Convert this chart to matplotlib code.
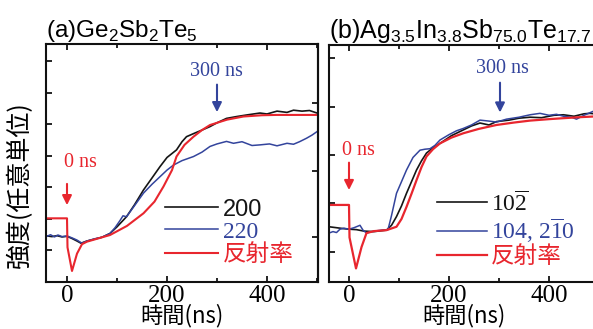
import numpy as np
import matplotlib
matplotlib.use('Agg')
import matplotlib.pyplot as plt
from matplotlib.ticker import MultipleLocator, FixedLocator

plt.rcParams['font.family'] = ['Liberation Sans', 'Noto Sans CJK JP', 'DejaVu Sans']
plt.rcParams['mathtext.fontset'] = 'custom'
plt.rcParams['mathtext.rm'] = 'Liberation Serif'
plt.rcParams['mathtext.sf'] = 'Liberation Sans'

BLACK = '#151515'
BLUE = '#33449c'
RED = '#e8262e'

# (a) Ge2Sb2Te5  -- time (ns) / intensity (arb.)
a_red_t = [-40, 0, 1, 10, 20, 30, 40, 86, 120, 153, 175, 193, 210, 219, 235, 253, 270, 286, 320, 353, 390, 419, 460, 500]
a_red_y = [2.02, 2.02, 1.1, 0.35, 0.9, 1.2, 1.28, 1.49, 1.78, 2.18, 2.55, 3.03, 3.55, 3.98, 4.35, 4.61, 4.82, 4.98, 5.15, 5.25, 5.29, 5.30, 5.30, 5.30]

a_blk_t = [-40, -30, -20, -10, 0, 10, 20, 28, 40, 55, 70, 86, 100, 119, 135, 153, 170, 186, 200, 219, 230, 239, 255, 270, 286, 300, 319, 340, 360, 386, 400, 420, 440, 453, 470, 485, 500]
a_blk_y = [1.46, 1.44, 1.47, 1.43, 1.45, 1.38, 1.3, 1.23, 1.3, 1.36, 1.42, 1.54, 1.75, 2.07, 2.45, 2.92, 3.3, 3.66, 3.95, 4.19, 4.45, 4.61, 4.72, 4.82, 4.93, 5.05, 5.19, 5.25, 5.3, 5.36, 5.33, 5.42, 5.38, 5.45, 5.42, 5.44, 5.36]

a_blu_t = [-40, -33, -25, -18, -10, 0, 10, 20, 30, 40, 55, 70, 86, 96, 106, 112, 119, 135, 153, 170, 186, 200, 213, 230, 253, 270, 286, 300, 319, 333, 350, 370, 386, 405, 420, 440, 453, 465, 479, 490, 500]
a_blu_y = [1.45, 1.5, 1.43, 1.49, 1.44, 1.46, 1.4, 1.33, 1.23, 1.3, 1.37, 1.42, 1.54, 1.72, 1.95, 2.1, 2.07, 2.42, 2.82, 3.1, 3.34, 3.55, 3.71, 3.85, 3.98, 4.12, 4.3, 4.38, 4.46, 4.4, 4.45, 4.33, 4.35, 4.38, 4.32, 4.4, 4.37, 4.45, 4.56, 4.66, 4.77]

# (b) Ag3.5In3.8Sb75.0Te17.7
b_red_t = [-40, 0, 1, 14, 25, 35, 50, 75, 95, 105, 115, 125, 135, 145, 155, 168, 182, 205, 229, 260, 295, 330, 362, 400, 429, 460, 500]
b_red_y = [0.97, 0.97, 0.3, -0.34, 0.1, 0.39, 0.43, 0.45, 0.52, 0.68, 0.93, 1.2, 1.48, 1.75, 1.97, 2.12, 2.24, 2.36, 2.45, 2.54, 2.62, 2.67, 2.71, 2.74, 2.76, 2.78, 2.80]

b_blk_t = [-40, -25, -10, 0, 15, 30, 50, 75, 85, 95, 105, 115, 125, 135, 145, 155, 168, 182, 205, 229, 245, 262, 280, 295, 320, 340, 362, 385, 410, 429, 450, 470, 482, 500]
b_blk_y = [0.52, 0.5, 0.48, 0.47, 0.46, 0.43, 0.42, 0.45, 0.55, 0.73, 0.95, 1.21, 1.45, 1.69, 1.88, 2.04, 2.15, 2.24, 2.4, 2.52, 2.6, 2.66, 2.62, 2.69, 2.72, 2.76, 2.78, 2.77, 2.82, 2.83, 2.8, 2.85, 2.86, 2.84]

b_blu_t = [-40, -32, -25, -18, -10, 0, 10, 22, 28, 35, 50, 65, 78, 85, 95, 105, 115, 128, 142, 152, 162, 172, 182, 200, 215, 229, 245, 262, 280, 295, 315, 340, 362, 382, 400, 415, 429, 445, 455, 470, 488, 500]
b_blu_y = [0.39, 0.42, 0.4, 0.47, 0.49, 0.47, 0.5, 0.55, 0.45, 0.39, 0.43, 0.45, 0.46, 0.75, 1.21, 1.45, 1.69, 1.95, 2.1, 2.12, 2.13, 2.2, 2.31, 2.42, 2.5, 2.55, 2.62, 2.72, 2.7, 2.68, 2.74, 2.78, 2.83, 2.86, 2.82, 2.84, 2.8, 2.78, 2.74, 2.82, 2.9, 2.88]

x_ticks = [0, 200, 400]
a_legend = ['200', '220', '反射率']
b_legend = [r'10$\mathrm{\overline{2}}$', r'104, 2$\mathrm{\overline{1}}$0', '反射率']
LEG_FONTS = [['Liberation Sans'], ['Liberation Serif'], ['Noto Sans CJK JP']]
LEG_FONTS_B = [['Liberation Serif'], ['Liberation Serif'], ['Noto Sans CJK JP']]


def style_axes(ax, xlim, ylim, yticks, rticks):
    ax.set_xlim(*xlim)
    ax.set_ylim(*ylim)
    ax.xaxis.set_major_locator(FixedLocator(x_ticks))
    ax.xaxis.set_minor_locator(MultipleLocator(100))
    ax.yaxis.set_major_locator(FixedLocator(yticks))
    ax.set_yticklabels([])
    ax.tick_params(which='both', direction='in', top=True, width=1.2)
    ax.tick_params(which='major', length=4, labelsize=18, pad=2)
    ax.tick_params(which='minor', length=3)
    for lab in ax.get_xticklabels():
        lab.set_family('Liberation Serif')
    for s in ax.spines.values():
        s.set_linewidth(1.5)
        s.set_color('#111111')
    if rticks:
        sec = ax.secondary_yaxis('right')
        sec.set_yticks(rticks)
        sec.set_yticklabels([])
        sec.tick_params(direction='in', length=4, width=1.2)
        sec.spines['right'].set_linewidth(1.5)
    ax.set_xlabel('時間(ns)', fontsize=16, family=['Noto Sans CJK JP'])
    ax.xaxis.set_label_coords(0.5, -0.143)
    ax.xaxis.label.set_va('center')


def add_legend(ax, handles, labels, fonts, anchor, hl):
    leg = ax.legend(handles, labels, loc='upper left', bbox_to_anchor=anchor,
                    frameon=False, handlelength=hl, handletextpad=0.2, labelspacing=0.02,
                    borderpad=0, borderaxespad=0,
                    prop={'family': ['Liberation Serif', 'Noto Sans CJK JP'], 'size': 17})
    for t, c, f in zip(leg.get_texts(), [BLACK, BLUE, RED], fonts):
        t.set_color(c)
        t.set_family(f)
    return leg


fig = plt.figure(figsize=(5.93, 3.29), dpi=100)
ax1 = fig.add_axes([46 / 593, 47 / 329, 272 / 593, 238 / 329])
ax2 = fig.add_axes([329 / 593, 47 / 329, 270 / 593, 237 / 329])

# panel (a)
l1, = ax1.plot(a_blk_t, a_blk_y, color=BLACK, lw=1.2)
l2, = ax1.plot(a_blu_t, a_blu_y, color=BLUE, lw=1.1)
l3, = ax1.plot(a_red_t, a_red_y, color=RED, lw=1.5)
style_axes(ax1, (-42, 502), (0, 7.55), [1, 2, 3, 4, 5, 6, 7], [1.43, 3.52, 5.68])
ax1.set_ylabel('強度(任意単位)', fontsize=18, family=['Noto Sans CJK JP'])
ax1.yaxis.set_label_coords(-0.048, 0.41)
ax1.set_title(r'(a)Ge$_{\mathsf{2}}$Sb$_{\mathsf{2}}$Te$_{\mathsf{5}}$', loc='left', fontsize=17.5, pad=3, x=0.0)
ax1.annotate('', xy=(300, 5.3), xytext=(300, 6.35),
             arrowprops=dict(arrowstyle='-|>', color=BLUE, lw=1.5, mutation_scale=14))
ax1.text(298, 6.68, '300 ns', color=BLUE, fontsize=14.5, family='Liberation Serif', ha='center', va='center')
ax1.annotate('', xy=(0, 2.35), xytext=(0, 3.2),
             arrowprops=dict(arrowstyle='-|>', color=RED, lw=1.5, mutation_scale=14))
ax1.text(26, 3.78, '0 ns', color=RED, fontsize=14.5, family='Liberation Serif', ha='center', va='center')
add_legend(ax1, [l1, l2, l3], a_legend, LEG_FONTS, (0.4375, 0.35), 2.25)

# panel (b)
m1, = ax2.plot(b_blk_t, b_blk_y, color=BLACK, lw=1.2)
m2, = ax2.plot(b_blu_t, b_blu_y, color=BLUE, lw=1.1)
m3, = ax2.plot(b_red_t, b_red_y, color=RED, lw=1.6)
style_axes(ax2, (-40, 500), (-0.62, 4.27), [0, 1, 2, 3, 4], None)
ax2.set_title(r'(b)Ag$_{\mathsf{3.5}}$In$_{\mathsf{3.8}}$Sb$_{\mathsf{75.0}}$Te$_{\mathsf{17.7}}$',
              loc='left', fontsize=18, pad=3, x=0.0)
ax2.annotate('', xy=(302, 2.82), xytext=(302, 3.55),
             arrowprops=dict(arrowstyle='-|>', color=BLUE, lw=1.5, mutation_scale=14))
ax2.text(306, 3.79, '300 ns', color=BLUE, fontsize=14.5, family='Liberation Serif', ha='center', va='center')
ax2.annotate('', xy=(0, 1.22), xytext=(0, 1.9),
             arrowprops=dict(arrowstyle='-|>', color=RED, lw=1.5, mutation_scale=14))
ax2.text(18, 2.1, '0 ns', color=RED, fontsize=14.5, family='Liberation Serif', ha='center', va='center')
add_legend(ax2, [m1, m2, m3], b_legend, LEG_FONTS_B, (0.4, 0.385), 2.1)

fig.savefig('out.png', dpi=100)
